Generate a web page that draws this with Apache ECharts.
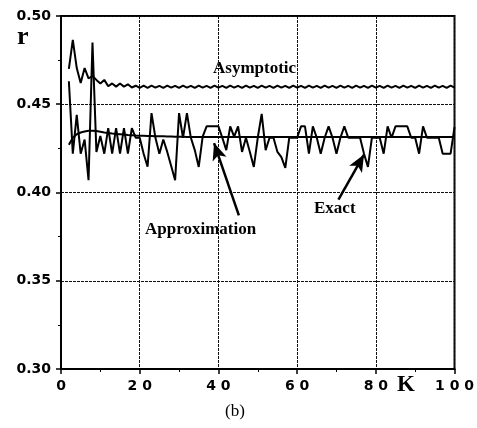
<!DOCTYPE html>
<html>
<head>
<meta charset="utf-8">
<script src="https://cdn.jsdelivr.net/npm/echarts@6/dist/echarts.min.js"></script>
<style>
html,body{margin:0;padding:0;background:#fff;}
#chart{width:477px;height:428px;}
</style>
</head>
<body>
<div id="chart"></div>
<script>
// K runs from 2 to 100
var kFirst = 2;
var xTicks = [0, 20, 40, 60, 80, 100];
var yTicks = [0.30, 0.35, 0.40, 0.45, 0.50];

// asymptotic curve
var asymptotic = [
    0.4700, 0.4865, 0.4705, 0.4620, 0.4705, 0.4647, 0.4660, 0.4638, 0.4618,
    0.4638, 0.4602, 0.4618, 0.4600, 0.4618, 0.4600, 0.4613, 0.4595, 0.4605, 0.4593,
    0.4605, 0.4593, 0.4605, 0.4594, 0.4604, 0.4593, 0.4605, 0.4594, 0.4604, 0.4593,
    0.4605, 0.4594, 0.4604, 0.4593, 0.4605, 0.4594, 0.4604, 0.4593, 0.4605, 0.4594,
    0.4604, 0.4593, 0.4605, 0.4594, 0.4604, 0.4593, 0.4605, 0.4594, 0.4604, 0.4593,
    0.4605, 0.4594, 0.4604, 0.4593, 0.4605, 0.4594, 0.4604, 0.4593, 0.4605, 0.4594,
    0.4604, 0.4593, 0.4605, 0.4594, 0.4604, 0.4593, 0.4605, 0.4594, 0.4604, 0.4593,
    0.4605, 0.4594, 0.4604, 0.4593, 0.4605, 0.4594, 0.4604, 0.4593, 0.4605, 0.4594,
    0.4604, 0.4593, 0.4605, 0.4594, 0.4604, 0.4593, 0.4605, 0.4594, 0.4604, 0.4593,
    0.4605, 0.4594, 0.4604, 0.4593, 0.4605, 0.4594, 0.4604, 0.4593, 0.4605, 0.4594
];

// approximation curve
var approximation = [
    0.4270, 0.4310, 0.4330, 0.4340, 0.4346, 0.4350, 0.4350, 0.4348, 0.4344,
    0.4340, 0.4337, 0.4334, 0.4332, 0.4330, 0.4328, 0.4326, 0.4325, 0.4323, 0.4322,
    0.4321, 0.4320, 0.4320, 0.4319, 0.4318, 0.4318, 0.4317, 0.4317, 0.4316, 0.4316,
    0.4316, 0.4315, 0.4315, 0.4315, 0.4315, 0.4314, 0.4314, 0.4314, 0.4314, 0.4314,
    0.4314, 0.4314, 0.4314, 0.4314, 0.4314, 0.4314, 0.4314, 0.4314, 0.4314, 0.4314,
    0.4314, 0.4314, 0.4314, 0.4314, 0.4314, 0.4314, 0.4314, 0.4314, 0.4314, 0.4314,
    0.4314, 0.4314, 0.4314, 0.4314, 0.4314, 0.4314, 0.4314, 0.4314, 0.4314, 0.4314,
    0.4314, 0.4314, 0.4314, 0.4314, 0.4314, 0.4314, 0.4314, 0.4314, 0.4314, 0.4314,
    0.4314, 0.4314, 0.4314, 0.4314, 0.4314, 0.4314, 0.4314, 0.4314, 0.4314, 0.4314,
    0.4314, 0.4314, 0.4314, 0.4314, 0.4314, 0.4314, 0.4314, 0.4314, 0.4314, 0.4314
];

// exact values
var exact = [
    0.463, 0.422, 0.444, 0.422, 0.430, 0.407, 0.485, 0.423, 0.432,
    0.422, 0.4365, 0.422, 0.4365, 0.422, 0.4365, 0.422, 0.4365, 0.431, 0.431,
    0.422, 0.4146, 0.445, 0.431, 0.422, 0.430, 0.423, 0.415, 0.407, 0.445,
    0.431, 0.445, 0.431, 0.424, 0.4145, 0.4316, 0.4375, 0.4375, 0.4375, 0.4375,
    0.431, 0.424, 0.4375, 0.4316, 0.4375, 0.423, 0.431, 0.423, 0.4145, 0.431,
    0.4445, 0.424, 0.431, 0.431, 0.423, 0.420, 0.414, 0.431, 0.431, 0.431,
    0.4375, 0.4375, 0.422, 0.4375, 0.431, 0.422, 0.431, 0.4375, 0.431, 0.422,
    0.431, 0.4375, 0.431, 0.431, 0.431, 0.431, 0.422, 0.4145, 0.431, 0.431,
    0.431, 0.422, 0.4375, 0.431, 0.4375, 0.4375, 0.4375, 0.4375, 0.431, 0.431,
    0.422, 0.4375, 0.431, 0.431, 0.431, 0.431, 0.422, 0.422, 0.422, 0.437
];

// arrows: [from, to] in data coords
var approxArrow = [[45.2, 0.387], [38.9, 0.428]];
var exactArrow = [[70.5, 0.396], [77.0, 0.4215]];

function toPairs(arr){
    var out = [];
    for(var i=0;i<arr.length;i++){
        out.push([kFirst + i, arr[i]]);
    }
    return out;
}

var chart = echarts.init(document.getElementById('chart'), null, {renderer:'canvas'});

var lineStyle = {color:'#000', width:2};
var tickFont = {color:'#000', fontFamily:'DejaVu Sans', fontWeight:'bold', fontSize:14};
var arrowLine = {color:'#000', width:2.5, type:'solid'};
var gridLine = {color:'#111', width:1, type:[3,1]};

var option = {
    animation:false,
    backgroundColor:'#fff',
    grid:{left:61, top:16, right:20, bottom:59, show:true, borderColor:'#000', borderWidth:2},
    xAxis:{
        type:'value', min:xTicks[0], max:xTicks[xTicks.length-1], interval:20,
        axisLine:{lineStyle:{color:'#000', width:2}},
        axisTick:{show:true, length:5, lineStyle:{color:'#000', width:1.5}},
        minorTick:{show:true, splitNumber:2, length:3, lineStyle:{color:'#000'}},
        splitLine:{show:true, lineStyle:gridLine},
        axisLabel:Object.assign({margin:10, formatter:function(v){
            return String(v).split('').join(' ');
        }}, tickFont)
    },
    yAxis:{
        type:'value', min:yTicks[0], max:yTicks[yTicks.length-1], interval:0.05,
        axisLine:{lineStyle:{color:'#000', width:2}},
        axisTick:{show:true, length:5, lineStyle:{color:'#000', width:1.5}},
        minorTick:{show:true, splitNumber:2, length:3, lineStyle:{color:'#000'}},
        splitLine:{show:true, lineStyle:gridLine},
        axisLabel:Object.assign({margin:10, formatter:function(v){
            return v.toFixed(2);
        }}, tickFont)
    },
    series:[
        {
            name:'Asymptotic', type:'line', data:toPairs(asymptotic),
            showSymbol:false, lineStyle:lineStyle, silent:true
        },
        {
            name:'Approximation', type:'line', data:toPairs(approximation),
            showSymbol:false, lineStyle:lineStyle, silent:true,
            markLine:{
                silent:true, symbol:['none','arrow'], symbolSize:[11,17],
                label:{show:false}, lineStyle:arrowLine,
                data:[
                    [{coord:approxArrow[0]},{coord:approxArrow[1]}],
                    [{coord:exactArrow[0]},{coord:exactArrow[1]}]
                ]
            }
        },
        {
            name:'Exact', type:'line', data:toPairs(exact),
            showSymbol:false, lineStyle:lineStyle, silent:true
        }
    ],
    graphic:[
        {type:'text', left:17, top:24, style:{text:'r', font:'bold 26px "Liberation Serif", serif', fill:'#000'}},
        {type:'text', left:397, top:374, style:{text:'K', font:'bold 23px "Liberation Serif", serif', fill:'#000'}},
        {type:'text', left:225, top:403, style:{text:'(b)', font:'17px "Liberation Serif", serif', fill:'#000'}},
        {type:'text', left:213, top:60, style:{text:'Asymptotic', font:'bold 17px "Liberation Serif", serif', fill:'#000'}},
        {type:'text', left:145, top:221, style:{text:'Approximation', font:'bold 17px "Liberation Serif", serif', fill:'#000'}},
        {type:'text', left:314, top:200, style:{text:'Exact', font:'bold 17px "Liberation Serif", serif', fill:'#000'}}
    ]
};

chart.setOption(option);
</script>
</body>
</html>
